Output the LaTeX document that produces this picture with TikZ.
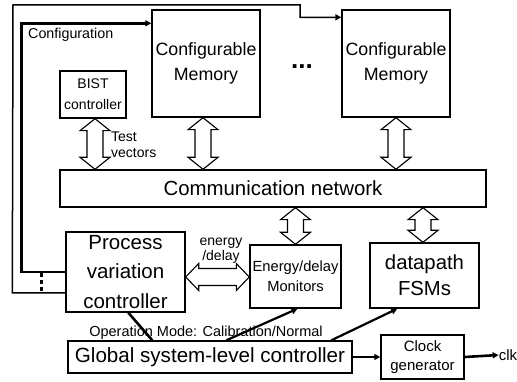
\documentclass[tikz,border=0pt]{standalone}
\usepackage{fontspec}
\setmainfont{Liberation Sans}
\usetikzlibrary{calc,arrows.meta}

% font size / baseline skip shortcut
\newcommand\setfs[2]{\fontsize{#1}{#2}\selectfont}

% hollow double-headed arrow, vertical: from (#1) down to the height of (#2)
\newcommand\vdarrow[2]{%
  \draw[hollow] let \p1=(#1), \p2=(#2) in
    (\x1,\y1) -- (\x1+15pt,\y1-12pt) -- (\x1+8pt,\y1-12pt) -- (\x1+8pt,\y2+12pt)
    -- (\x1+15pt,\y2+12pt) -- (\x1,\y2) -- (\x1-15pt,\y2+12pt) -- (\x1-8pt,\y2+12pt)
    -- (\x1-8pt,\y1-12pt) -- (\x1-15pt,\y1-12pt) -- cycle;}

% hollow double-headed arrow, horizontal: from (#1) right to the x of (#2)
\newcommand\hdarrow[2]{%
  \draw[hollow] let \p1=(#1), \p2=(#2) in
    (\x1,\y1) -- (\x1+13pt,\y1+13.5pt) -- (\x1+13pt,\y1+8.5pt) -- (\x2-13pt,\y1+8.5pt)
    -- (\x2-13pt,\y1+13.5pt) -- (\x2,\y1) -- (\x2-13pt,\y1-13.5pt) -- (\x2-13pt,\y1-8.5pt)
    -- (\x1+13pt,\y1-8.5pt) -- (\x1+13pt,\y1-13.5pt) -- cycle;}

\begin{document}
\begin{tikzpicture}[x=1pt,y=-1pt,
  box/.style={draw, line width=1.4pt, inner sep=0pt, align=center},
  hollow/.style={draw, line width=1.1pt, fill=white, line join=miter},
  tip/.style={-{Triangle[length=6pt,width=6pt]}},
  cfgthick/.style={line width=2.6pt},
  cfgthin/.style={line width=1.5pt},
  diag/.style={line width=2.2pt},
  lbl/.style={inner sep=0pt}
]
\useasboundingbox (0,0) rectangle (517,382);

% ---- memories and BIST ----
\node[box, minimum width=108pt, minimum height=107pt, font=\setfs{17.8}{25}] (mem1) at (206,63.5) {Configurable\\Memory};
\node[box, minimum width=108pt, minimum height=107pt, font=\setfs{17.8}{25}] (mem2) at (396,63.5) {Configurable\\Memory};
\node[lbl, font=\bfseries\setfs{26}{26}] (dots) at (302,67) {...};
\node[box, minimum width=66pt, minimum height=47pt, font=\setfs{14}{21}] (bist) at (93,94.5) {BIST\\controller};

% ---- communication network ----
\node[box, minimum width=426pt, minimum height=37pt, font=\setfs{20.4}{24}] (net) at (273,188.5) {Communication network};

% ---- lower blocks ----
\node[box, minimum width=119pt, minimum height=80pt, font=\setfs{20.5}{29.5}] (pvc) at (125.5,272) {Process\\variation\\controller};
\node[box, minimum width=91pt, minimum height=63pt, font=\setfs{14.7}{20}] (mon) at (295.5,276.5) {Energy/delay\\Monitors};
\node[box, minimum width=109pt, minimum height=65pt, font=\setfs{20.3}{26}] (dp) at (424.5,275.5) {datapath\\FSMs};
\node[box, minimum width=284pt, minimum height=32pt, font=\setfs{20.6}{24}] (glob) at (210,357) {Global system-level controller};
\node[box, minimum width=83pt, minimum height=44pt, font=\setfs{15}{19}] (cgen) at (422.5,357) {Clock\\generator};
\node[lbl, font=\setfs{15}{18}] (clk) at (508,355) {clk};

% ---- labels ----
\node[lbl, anchor=west, font=\setfs{14.3}{17}] (cfg) at (28,35) {Configuration};
\node[lbl, anchor=west, align=left, font=\setfs{14}{16}] (tv) at (111,145) {Test\\vectors};
\node[lbl, align=center, font=\setfs{14}{15}] (ed) at (221,250.5) {energy\\/delay};
\node[lbl, font=\setfs{14.5}{17}] (opm) at (206,333) {Operation Mode: Calibration/Normal};

% ---- configuration paths ----
\coordinate (in1) at ($(mem1.north west)+(0,14)$);
\coordinate (in2) at ($(mem2.north west)+(0,8)$);
\coordinate (pvcout) at ($(pvc.west)+(0,21)$);
\draw[cfgthick, tip] (pvc.west) -- ++(-44,0) |- (in1);
\draw[cfgthin, tip] (pvcout) -- ++(-53,0) -- (13,5) -- (300,5) |- (in2);
\draw[line width=3.6pt, dash pattern=on 4pt off 3pt] ($(pvc.west)+(-24,1)$) -- ($(pvc.west)+(-24,19)$);

% ---- hollow data arrows ----
\vdarrow{$(bist.south)+(2,0)$}{net.north}
\vdarrow{$(mem1.south)+(-3,0)$}{net.north}
\vdarrow{mem2.south}{net.north}
\vdarrow{$(net.south -| mon.north)+(0,0)$}{mon.north}
\vdarrow{$(net.south -| dp.north)+(-1.5,0)$}{dp.north}
\hdarrow{$(pvc.east)+(0,5)$}{mon.west}

% ---- control lines from the global controller ----
\draw[line width=2.6pt] ($(glob.north west)+(85,0)$) -- ($(pvc.south west)+(63,0)$);
\draw[diag, tip] ($(glob.north west)+(159,0)$) -- ($(mon.south)+(2,0)$);
\draw[diag, tip] ($(glob.north west)+(264,0)$) -- ($(dp.south west)+(28,0)$);
\draw[cfgthick, tip] (glob.east) -- (cgen.west);
\draw[cfgthick, tip] (cgen.east) -- (clk.west);
\end{tikzpicture}
\end{document}
